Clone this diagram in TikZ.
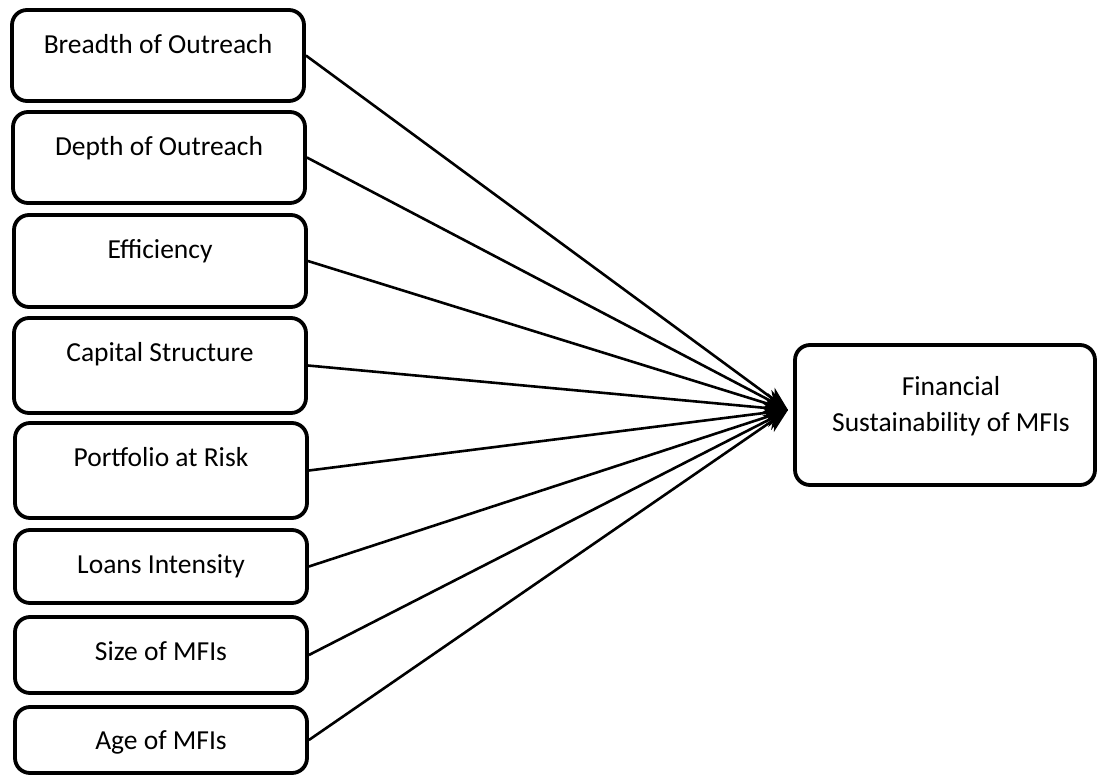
\documentclass[tikz,border=0pt]{standalone}
\usepackage{fontspec}
\setmainfont{Carlito}
\usetikzlibrary{arrows.meta}
\tikzset{
  box/.style={draw, line width=3.8pt, rounded corners=15pt, inner sep=0pt},
  txt/.style={font=\fontsize{27.5}{37}\selectfont, inner sep=0pt, anchor=base},
  conn/.style={line width=2.6pt, -{Stealth[length=24pt,width=20pt]}}
}
\begin{document}
\begin{tikzpicture}[x=1pt,y=-1pt]
\useasboundingbox (0,0) rectangle (1097,778);
% left boxes
\node[box, minimum width=292pt, minimum height=91pt] (b1) at (158,55.5) {};
\node[box, minimum width=292pt, minimum height=91pt] (b2) at (159,157.5) {};
\node[box, minimum width=292pt, minimum height=92pt] (b3) at (160,261) {};
\node[box, minimum width=292pt, minimum height=95pt] (b4) at (160,365.5) {};
\node[box, minimum width=292pt, minimum height=95pt] (b5) at (161,470.5) {};
\node[box, minimum width=292pt, minimum height=73pt] (b6) at (161,566.5) {};
\node[box, minimum width=292pt, minimum height=76pt] (b7) at (161,655) {};
\node[box, minimum width=292pt, minimum height=66pt] (b8) at (161,740) {};
\node[txt] (t1) at ([yshift=-45pt]b1.north) {Breadth of Outreach};
\node[txt] (t2) at ([yshift=-45pt]b2.north) {Depth of Outreach};
\node[txt] (t3) at ([yshift=-45pt]b3.north) {Efficiency};
\node[txt] (t4) at ([yshift=-45pt]b4.north) {Capital Structure};
\node[txt] (t5) at ([yshift=-45pt]b5.north) {Portfolio at Risk};
\node[txt] (t6) at ([yshift=-45pt]b6.north) {Loans Intensity};
\node[txt] (t7) at ([yshift=-45pt]b7.north) {Size of MFIs};
\node[txt] (t8) at ([yshift=-44pt]b8.north) {Age of MFIs};
% right box
\node[box, minimum width=300pt, minimum height=140pt] (fin) at (945,415) {};
\node[txt] (f1) at (951,395) {Financial};
\node[txt] (f2) at (951,431) {Sustainability of MFIs};
\coordinate (tip) at (788,410);
\foreach \i in {1,...,8} {
  \draw[conn] (b\i.east) -- (tip);
}
\end{tikzpicture}
\end{document}
